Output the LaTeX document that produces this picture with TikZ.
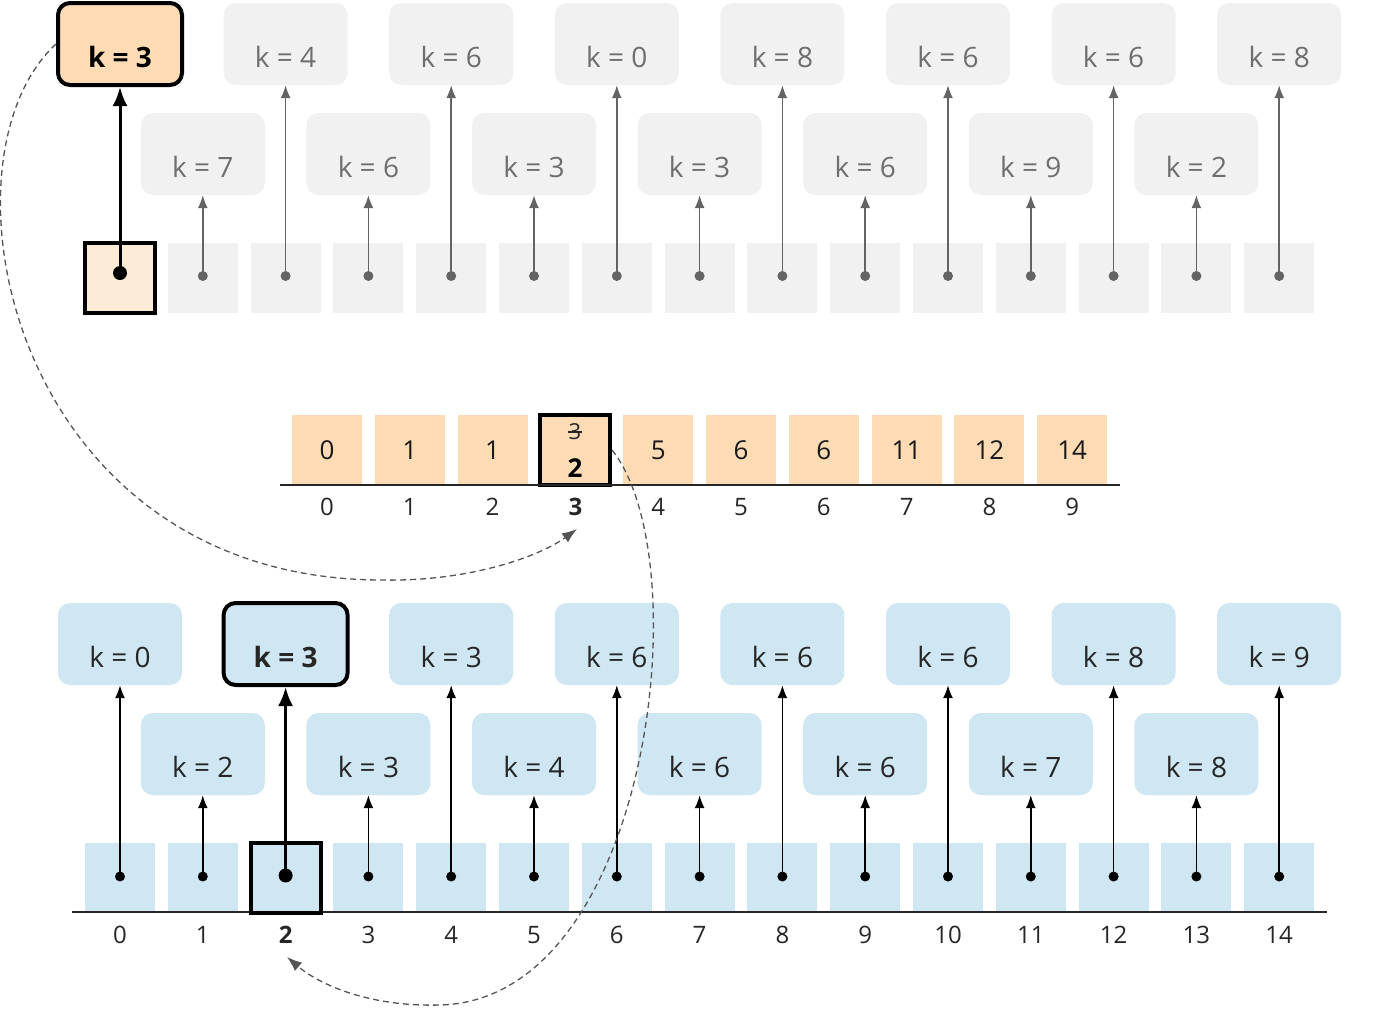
\documentclass[tikz,border=0pt]{standalone}
\usepackage{fontspec}
\setmainfont{Open Sans}
\usetikzlibrary{arrows.meta}
\definecolor{orfill}{HTML}{FDDCB5}
\definecolor{orlight}{HTML}{FCEBD6}
\definecolor{blfill}{HTML}{CFE6F3}
\definecolor{grfill}{HTML}{F1F1F1}
\definecolor{grtext}{HTML}{6E6E6E}
\definecolor{grline}{HTML}{646464}
\definecolor{dashcol}{HTML}{555555}
\tikzset{
  boxbase/.style={rectangle, rounded corners=12pt, minimum width=124pt, minimum height=82pt,
    inner sep=0pt, text height=46pt, text depth=0pt, font=\fontsize{28}{32}\selectfont},
  gbox/.style={boxbase, fill=grfill, text=grtext},
  bbox/.style={boxbase, fill=blfill, text=black!85},
  obox/.style={boxbase, fill=orfill, text=black},
  hlbox/.style={draw=black, line width=4pt},
  cellbase/.style={rectangle, minimum width=70pt, minimum height=70pt, inner sep=0pt},
  gcell/.style={cellbase, fill=grfill},
  bcell/.style={cellbase, fill=blfill},
  ocell/.style={cellbase, fill=orfill, font=\fontsize{26}{30}\selectfont, text=black!90},
  hlcell/.style={draw=black, line width=4pt},
  idx/.style={font=\fontsize{24}{28}\selectfont, text=black!85, inner sep=1pt},
  garrow/.style={draw=grline, line width=1.5pt, -{Latex[length=13pt,width=10pt]}},
  barrow/.style={draw=black, line width=1.5pt, -{Latex[length=13pt,width=10pt]}},
  harrow/.style={draw=black, line width=3pt, -{Latex[length=19pt,width=15pt]}},
  axisline/.style={draw=black!85, line width=1.6pt},
  dashcurve/.style={draw=dashcol, line width=1.3pt, dash pattern=on 6pt off 4pt,
    -{Latex[length=15pt,width=11pt]}},
}
\begin{document}
\begin{tikzpicture}[x=1pt,y=-1pt]
\useasboundingbox (0,0) rectangle (1400,1012);

% ---------- top (grey) ----------
\foreach \v [count=\i from 0] in {3,7,4,6,6,3,0,3,8,6,6,9,6,2,8} {
  \pgfmathsetmacro\xx{120+82.8*\i}
  \ifnum\i>0
    \node[gcell] (t\i) at (\xx,278) {};
    \ifodd\i
      \node[gbox] (tb\i) at (\xx,154) {k = \v};
    \else
      \node[gbox] (tb\i) at (\xx,44) {k = \v};
    \fi
    \draw[garrow] ([yshift=2pt]t\i.center) -- (tb\i.south);
    \fill[grline] ([yshift=2pt]t\i.center) circle (5pt);
  \fi
}
\node[gcell, fill=orlight, hlcell] (t0) at (120,278) {};
\node[obox, hlbox] (hk) at (120,44) {\bfseries k = 3};
\draw[harrow] ([yshift=5pt]t0.center) -- (hk.south);
\fill[black] ([yshift=5pt]t0.center) circle (7pt);

% ---------- middle (orange) ----------
\foreach \v [count=\j from 0] in {0,1,1,x,5,6,6,11,12,14} {
  \pgfmathsetmacro\xx{327+82.8*\j}
  \ifnum\j=3
    \node[idx, font=\fontsize{24}{28}\selectfont\bfseries] (mi\j) at (\xx,507) {\j};
  \else
    \node[ocell] (m\j) at (\xx,450) {\v};
    \node[idx] (mi\j) at (\xx,507) {\j};
  \fi
}
\node[ocell, hlcell] (m3) at (575,450) {};
\node[font=\fontsize{22}{24}\selectfont, inner sep=1pt, text=black!85] (s3) at (575,432) {3};
\draw[black!85, line width=1.2pt] (s3.west) -- (s3.east);
\node[font=\fontsize{26}{30}\selectfont\bfseries, inner sep=1pt] (n3) at (575,468) {2};
\coordinate (ma) at (280,485);
\coordinate (mb) at (1120,485);
\draw[axisline] (ma) -- (mb);

% ---------- bottom (blue) ----------
\foreach \v [count=\i from 0] in {0,2,3,3,3,4,6,6,6,6,6,7,8,8,9} {
  \pgfmathsetmacro\xx{120+82.8*\i}
  \ifnum\i=2
    \node[idx, font=\fontsize{24}{28}\selectfont\bfseries] (bi\i) at (\xx,935) {\i};
  \else
    \node[bcell] (b\i) at (\xx,877.5) {};
    \ifodd\i
      \node[bbox] (bb\i) at (\xx,754) {k = \v};
    \else
      \node[bbox] (bb\i) at (\xx,644) {k = \v};
    \fi
    \draw[barrow] ([yshift=1pt]b\i.center) -- (bb\i.south);
    \fill[black] ([yshift=1pt]b\i.center) circle (5pt);
    \node[idx] (bi\i) at (\xx,935) {\i};
  \fi
}
\coordinate (ba) at (72,912);
\coordinate (bc) at (1327,912);
\draw[axisline] (ba) -- (bc);
\node[bcell, hlcell] (b2) at (285.6,877.5) {};
\node[bbox, hlbox] (bb2) at (285.6,644) {\bfseries k = 3};
\draw[harrow] ([yshift=2pt]b2.center) -- (bb2.south);
\fill[black] ([yshift=2pt]b2.center) circle (7pt);

% ---------- dashed curves ----------
\coordinate (e1) at (577,529);
\coordinate (e2) at (287,957);
\draw[dashcurve] (hk.west) .. controls (-70,160) and (10,578) .. (380,580)
  .. controls (470,582) and (540,556) .. (e1);
\draw[dashcurve] (m3.east) .. controls (700,560) and (650,1000) .. (440,1005)
  .. controls (370,1007) and (320,985) .. (e2);
\end{tikzpicture}
\end{document}
